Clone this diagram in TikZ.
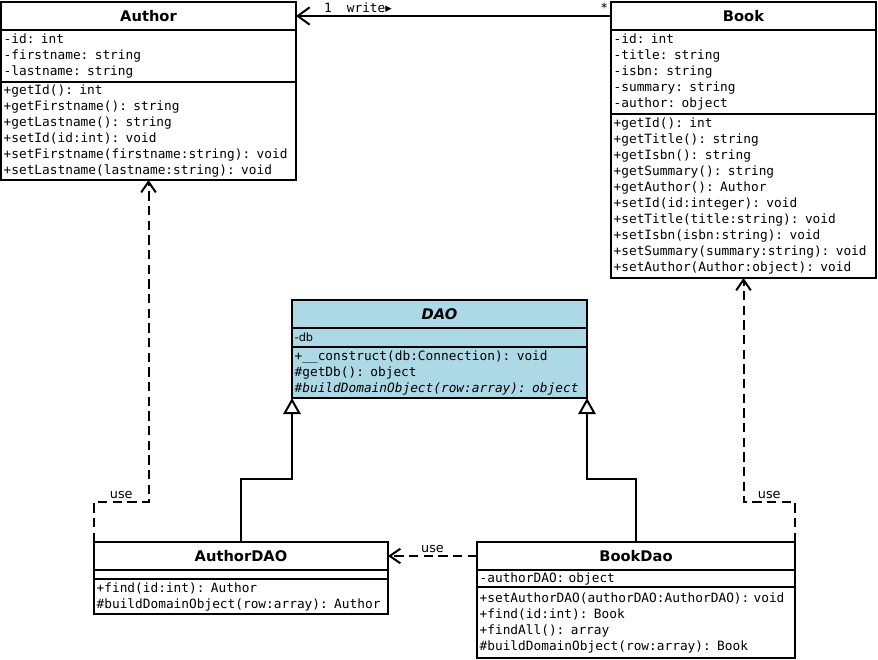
\documentclass[tikz,border=0pt]{standalone}
\usepackage{fontspec}
\setmainfont{DejaVu Sans}
\setsansfont{DejaVu Sans}
\setmonofont{DejaVu Sans Mono}
\usetikzlibrary{positioning,arrows.meta}
\definecolor{daoblue}{HTML}{ADD8E6}

\tikzset{
  umlbox/.style={draw=black, line width=1.5pt, outer sep=0pt, fill=white, inner xsep=2pt},
  classname/.style={umlbox, align=center, minimum height=21pt, font=\fontsize{11}{13}\selectfont\bfseries},
  members/.style={umlbox, align=left, inner ysep=1pt, font=\fontsize{9.6}{12}\selectfont\ttfamily},
  assoc/.style={line width=1.5pt, -{Straight Barb[length=9pt,width=13pt]}},
  dep/.style={line width=1.5pt, dash pattern=on 7pt off 4pt, -{Straight Barb[length=8pt,width=11pt]}},
  inherit/.style={line width=1.5pt, -{Triangle[open,length=12pt,width=13pt,fill=white]}},
  lbl/.style={font=\fontsize{9.6}{11}\selectfont\ttfamily, inner sep=1.5pt},
  uselbl/.style={font=\fontsize{9.6}{11}\selectfont, inner sep=1.5pt}
}

\begin{document}
\begin{tikzpicture}[x=0.75pt,y=-0.75pt]
  \useasboundingbox (0,0) rectangle (878,660);

  % Author
  \node[classname, text width=217.25pt, anchor=north west] (authortitle) at (1,2) {Author};
  \node[members, text width=217.25pt, minimum height=39pt, below=0pt of authortitle] (authorattrs)
    {-id: int\\-firstname: string\\-lastname: string};
  \node[members, text width=217.25pt, minimum height=73.5pt, below=0pt of authorattrs] (authormethods)
    {+getId(): int\\+getFirstname(): string\\+getLastname(): string\\+setId(id:int): void\\
     +setFirstname(firstname:string): void\\+setLastname(lastname:string): void};

  % Book
  \node[classname, text width=194.75pt, anchor=north west] (booktitle) at (611,2) {Book};
  \node[members, text width=194.75pt, minimum height=63pt, below=0pt of booktitle] (bookattrs)
    {-id: int\\-title: string\\-isbn: string\\-summary: string\\-author: object};
  \node[members, text width=194.75pt, minimum height=123pt, below=0pt of bookattrs] (bookmethods)
    {+getId(): int\\+getTitle(): string\\+getIsbn(): string\\+getSummary(): string\\
     +getAuthor(): Author\\+setId(id:integer): void\\+setTitle(title:string): void\\
     +setIsbn(isbn:string): void\\+setSummary(summary:string): void\\+setAuthor(Author:object): void};

  % DAO
  \node[classname, fill=daoblue, text width=217.25pt, anchor=north west] (daotitle) at (292,300) {\itshape DAO};
  \node[members, fill=daoblue, text width=217.25pt, minimum height=14.25pt, below=0pt of daotitle] (daoattrs)
    {\sffamily\fontsize{8.5}{10}\selectfont -db};
  \node[members, fill=daoblue, text width=217.25pt, minimum height=38.25pt, below=0pt of daoattrs] (daomethods)
    {+\_\_construct(db:Connection): void\\\#getDb(): object\\
     {\itshape\#buildDomainObject(row:array): object}};

  % AuthorDAO
  \node[classname, text width=216.5pt, anchor=north west] (authordaotitle) at (94,542) {AuthorDAO};
  \node[members, text width=216.5pt, minimum height=6.75pt, below=0pt of authordaotitle] (authordaoattrs) {};
  \node[members, text width=216.5pt, minimum height=26.25pt, below=0pt of authordaoattrs] (authordaomethods)
    {+find(id:int): Author\\\#buildDomainObject(row:array): Author};

  % BookDao
  \node[classname, text width=234.5pt, anchor=north west] (bookdaotitle) at (477,542) {BookDao};
  \node[members, text width=234.5pt, minimum height=12.75pt, below=0pt of bookdaotitle] (bookdaoattrs)
    {-authorDAO: object};
  \node[members, text width=234.5pt, minimum height=53.25pt, below=0pt of bookdaoattrs] (bookdaomethods)
    {+setAuthorDAO(authorDAO:AuthorDAO): void\\+find(id:int): Book\\+findAll(): array\\
     \#buildDomainObject(row:array): Book};

  % connectors
  \draw[assoc] (booktitle.west) -- node[lbl, above left, pos=0] {*}
    node[lbl, above, pos=1, xshift=24pt] {1}
    node[lbl, above, pos=1, xshift=55pt] {write{\sffamily ▸}} (authortitle.east);

  \draw[inherit] (authordaotitle.north) -- ++(0,-63) -| (daomethods.south west);
  \draw[inherit] (bookdaotitle.north) -- ++(0,-63) -| (daomethods.south east);

  \draw[dep] (bookdaotitle.west) -- node[uselbl, above] {use} (authordaotitle.east);
  \draw[dep] (authordaotitle.north west) -- ++(0,-40) -| node[uselbl, above, pos=0.25] {use} (authormethods.south);
  \draw[dep] (bookdaotitle.north east) -- ++(0,-40) -| node[uselbl, above, pos=0.25] {use} (bookmethods.south);
\end{tikzpicture}
\end{document}
